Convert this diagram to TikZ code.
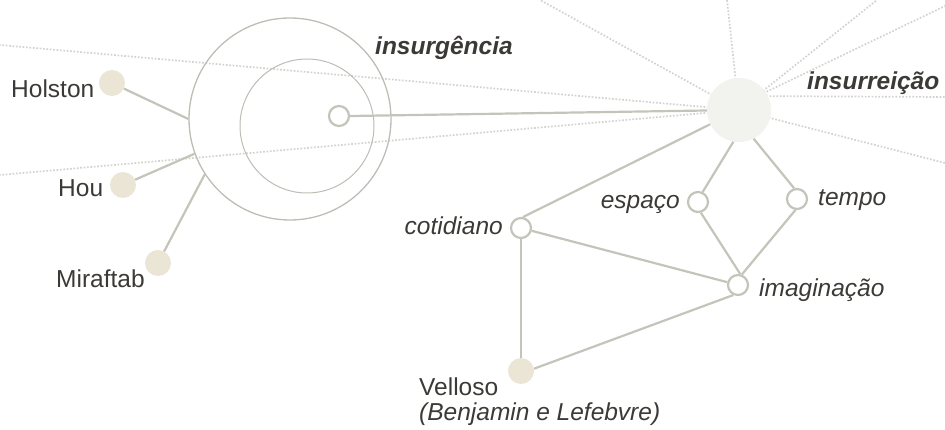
\documentclass[tikz,border=0pt]{standalone}
\usepackage{fontspec}
\setmainfont{Liberation Sans}
\definecolor{edgec}{HTML}{C4C4BA}
\definecolor{ringc}{HTML}{BDBDB5}
\definecolor{rayc}{HTML}{D3D3CE}
\definecolor{dotc}{HTML}{EBE5D6}
\definecolor{hubc}{HTML}{F2F2EE}
\definecolor{txtc}{HTML}{3B3A36}
\begin{document}
\begin{tikzpicture}[x=1pt,y=-1pt,
  ray/.style={draw=rayc, line width=1.7pt, dash pattern=on 1.7pt off 1.7pt},
  edge/.style={draw=edgec, line width=2.2pt},
  ring/.style={circle, draw=ringc, inner sep=0pt},
  hollow/.style={circle, draw=edgec, line width=2.2pt, fill=white, minimum size=20pt, inner sep=0pt},
  dotnode/.style={circle, fill=dotc, minimum size=26pt, inner sep=0pt},
  hubnode/.style={circle, fill=hubc, minimum size=64pt, inner sep=0pt},
  lbl/.style={text=txtc, inner sep=0pt, font=\fontsize{24.5}{28}\selectfont},
  lbli/.style={lbl, font=\fontsize{24.5}{28}\selectfont\itshape},
  lblb/.style={lbl, font=\fontsize{24.5}{28}\selectfont\bfseries\itshape}]
\useasboundingbox (0,0) rectangle (945,430);
% rays
\coordinate (hc) at (739,110);
\coordinate (r1) at (0,45);
\coordinate (r2) at (0,175);
\coordinate (r3) at (540,0);
\coordinate (r4) at (727,0);
\coordinate (r5) at (877,0);
\coordinate (r6) at (945,6);
\coordinate (r7) at (945,97);
\coordinate (r8) at (945,163);
\coordinate (h6) at (739,105);
\coordinate (h7) at (739,96);
\draw[ray] (hc) -- (r1);
\draw[ray] (hc) -- (r2);
\draw[ray] (hc) -- (r3);
\draw[ray] (hc) -- (r4);
\draw[ray] (hc) -- (r5);
\draw[ray] (h6) -- (r6);
\draw[ray] (h7) -- (r7);
\draw[ray] (hc) -- (r8);
% nodes
\node[ring, line width=1.3pt, minimum size=202pt] (outer) at (290,119) {};
\node[ring, line width=1pt, minimum size=134pt] (inner) at (307,126) {};
\node[hubnode] (insr) at (739,110) {};
\node[dotnode] (hol) at (112,83) {};
\node[dotnode] (hou) at (123,185) {};
\node[dotnode] (mir) at (158,263) {};
\node[dotnode] (vel) at (521,371) {};
% edges
\draw[edge] (hol) -- (outer.180);
\draw[edge] (hou) -- (outer.200.7);
\draw[edge] (mir) -- (outer.213);
\node[hollow] (insg) at (339,116) {};
\node[hollow] (esp) at (698,202) {};
\node[hollow] (tem) at (797,199) {};
\node[hollow] (cot) at (521,228) {};
\node[hollow] (ima) at (738,285) {};
\draw[edge] (insg.east) -- (insr);
\draw[edge] (insr) -- (cot.80);
\draw[edge] (insr.260) -- (esp.65);
\draw[edge] (insr.297) -- (tem.105);
\draw[edge] (esp.285) -- (ima.78);
\draw[edge] (tem.262) -- (ima.70);
\draw[edge] (cot) -- (ima);
\draw[edge] (cot) -- (vel);
\draw[edge] (vel.10) -- (ima.245);
% labels
\node[lblb, anchor=base west] (l-insg) at (375,55) {insurgência};
\node[lblb, anchor=base west] (l-insr) at (807,90) {insurreição};
\node[lbl, anchor=base west] (l-hol) at (11,98) {Holston};
\node[lbl, anchor=base west] (l-hou) at (58,197) {Hou};
\node[lbl, anchor=base west] (l-mir) at (56,288) {Miraftab};
\node[lbli, anchor=base east] (l-esp) at (680,209) {espaço};
\node[lbli, anchor=base west] (l-tem) at (818,206) {tempo};
\node[lbli, anchor=base east] (l-cot) at (503,235) {cotidiano};
\node[lbli, anchor=base west] (l-ima) at (759,297) {imaginação};
\node[lbl, anchor=base west] (l-vel) at (419,395) {Velloso};
\node[lbli, anchor=base west] (l-vel2) at (419,420) {(Benjamin e Lefebvre)};
\end{tikzpicture}
\end{document}
